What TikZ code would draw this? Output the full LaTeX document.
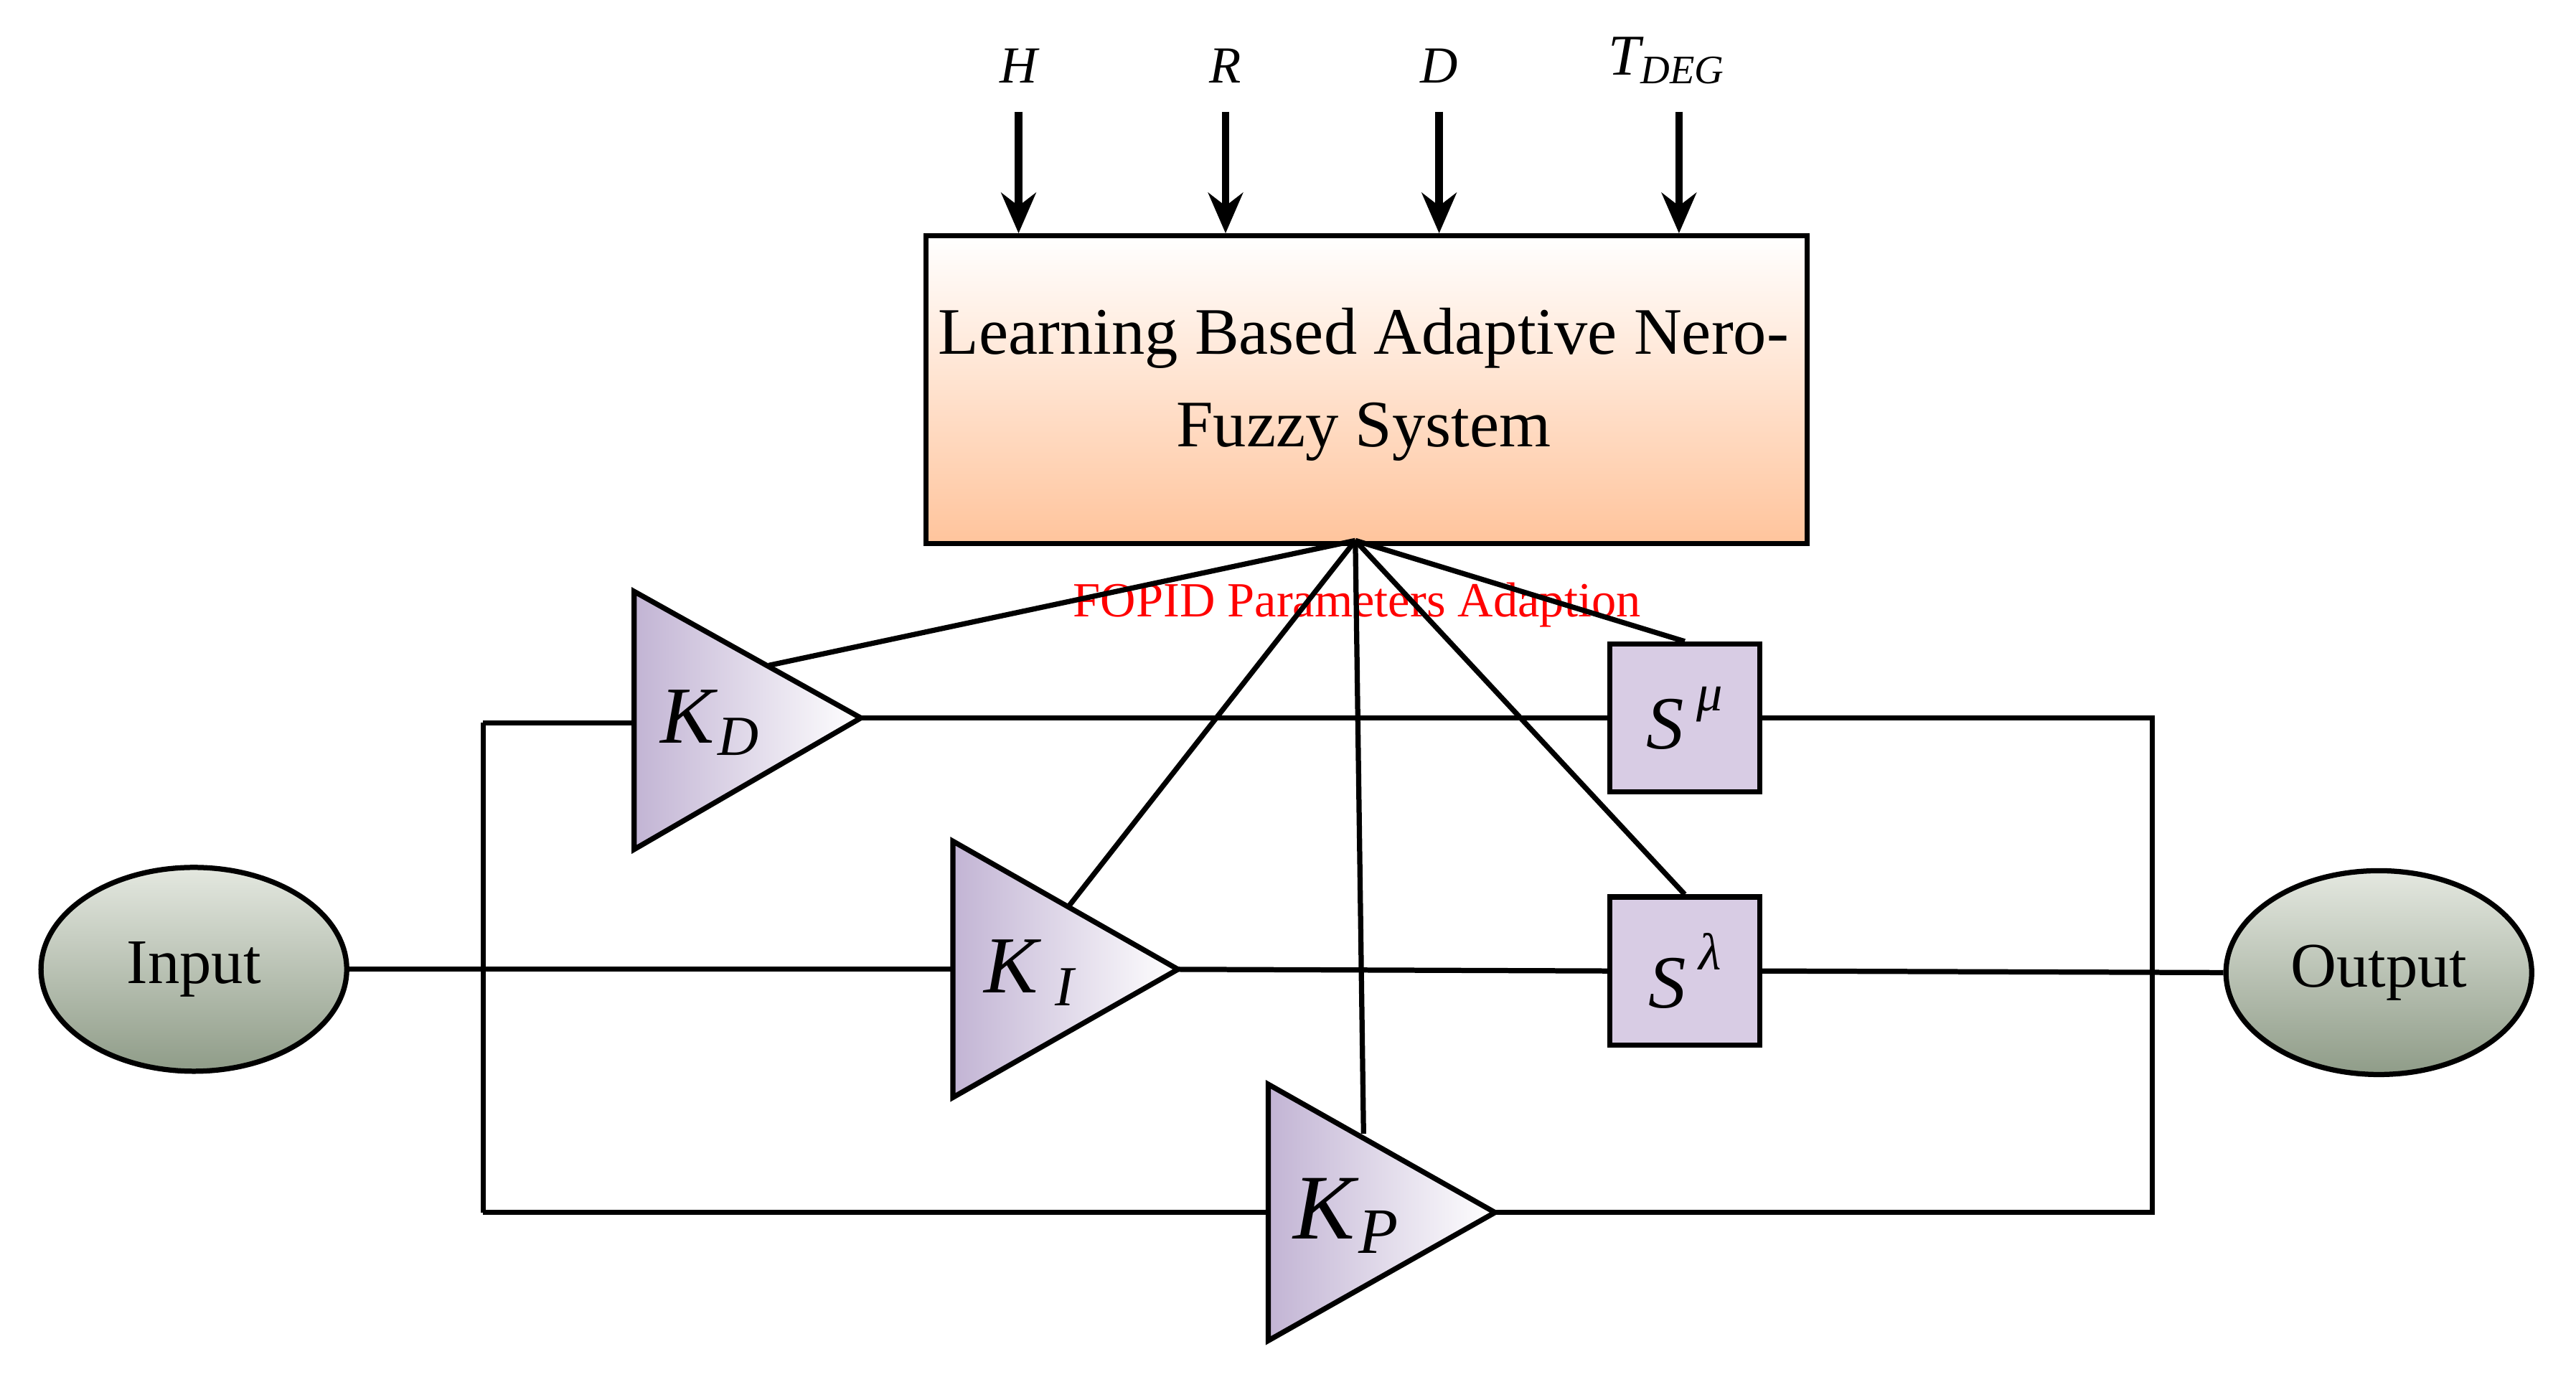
\documentclass[tikz,border=0pt]{standalone}
\usepackage{fontspec}
\setmainfont{Liberation Serif}
\begin{document}
\begin{tikzpicture}[x=0.01cm,y=-0.01cm,
  ln/.style={line width=0.9pt},
  arr/.style={line width=1.3pt,-{Stealth[length=7pt,width=6pt]}},
  tri/.style={ln,left color=lavk,right color=white},
  sbox/.style={ln,draw,fill=lavb,minimum width=91\pgflinewidth,inner sep=0pt},
  ell/.style={ln,draw,ellipse,top color=elt,bottom color=elb,minimum width=1.86cm,minimum height=1.24cm,font=\fontsize{11}{13}\selectfont},
  kl/.style={font=\fontsize{14}{16}\selectfont}]
\usetikzlibrary{arrows.meta,shapes.geometric}
\definecolor{lavk}{HTML}{C2B4D4}
\definecolor{lavb}{HTML}{D8CCE4}
\definecolor{elt}{HTML}{E4E8E0}
\definecolor{elb}{HTML}{8F9C88}
\definecolor{org}{HTML}{FFC49C}
\useasboundingbox (0,0) rectangle (1568,838);
% top box
\node[ln,draw,top color=white,bottom color=org,minimum width=5.36cm,minimum height=1.87cm,anchor=north west,inner sep=0pt] (box) at (562,142) {};
\node[align=center,font=\fontsize{11.5}{16}\selectfont] (boxt) at (830,234) {Learning Based Adaptive Nero-\\Fuzzy System};
% inputs
\foreach \x/\n/\t in {620/h/H,746/r/R,876/d/D}{
  \node[font=\fontsize{9}{10}\selectfont\itshape] (\n) at (\x,40) {\t};
  \coordinate (\n a) at (\x,68); \coordinate (\n b) at (\x,142);
  \draw[arr] (\n a) -- (\n b);}
\node[font=\fontsize{10}{10}\selectfont\itshape] (tdeg) at (1015,37) {T\textsubscript{\fontsize{7}{7}\selectfont DEG}};
\coordinate (ta) at (1022,68); \coordinate (tb) at (1022,142);
\draw[arr] (ta) -- (tb);
\coordinate (hub) at (825,329);
\node[text=red,font=\fontsize{8.5}{10}\selectfont] (fopid) at (826,368) {FOPID Parameters Adaption};
% triangles
\draw[tri] (386,360) -- (524,437) -- (386,517) -- cycle;
\draw[tri] (580,512) -- (717,590) -- (580,668) -- cycle;
\draw[tri] (772,660) -- (910,738) -- (772,816) -- cycle;
\node[kl] (kd) at (433,440) {\textit{K}\textsubscript{\textit{D}}};
\node[kl] (ki) at (628,592) {\textit{K}\,\textsubscript{\textit{I}}};
\node[kl,font=\fontsize{16}{18}\selectfont] (kp) at (820,740) {\textit{K}\textsubscript{\textit{P}}};
\coordinate (kdl) at (386,440); \coordinate (kdt) at (524,437);
\coordinate (kil) at (580,590); \coordinate (kit) at (717,590);
\coordinate (kpl) at (772,738); \coordinate (kpt) at (910,738);
\coordinate (kdh) at (468,405); \coordinate (kih) at (651,551); \coordinate (kph) at (830,690);
% S boxes
\node[ln,draw,fill=lavb,minimum width=0.91cm,minimum height=0.9cm,inner sep=0pt,font=\fontsize{13}{15}\selectfont] (smu) at (1025.5,437) {\textit{S}\,\raisebox{1.1ex}{\fontsize{9}{9}\selectfont\textit{μ}}};
\node[ln,draw,fill=lavb,minimum width=0.91cm,minimum height=0.9cm,inner sep=0pt,font=\fontsize{13}{15}\selectfont] (sla) at (1025.5,591) {\textit{S}\,\raisebox{1.1ex}{\fontsize{9}{9}\selectfont\textit{λ}}};
% ellipses
\node[ell] (in) at (118,590) {Input};
\node[ell] (out) at (1448,592) {Output};
% buses
\coordinate (lt) at (294,440); \coordinate (lb) at (294,738);
\coordinate (rt) at (1310,437); \coordinate (rb) at (1310,738); \coordinate (rm) at (1310,590);
\draw[ln] (in.east) -- (kil);
\draw[ln] (lt) -- (lb);
\draw[ln] (lt) -- (kdl);
\draw[ln] (lb) -- (kpl);
\draw[ln] (kdt) -- (smu.west);
\draw[ln] (smu.east) -- (rt) -- (rb) -- (kpt);
\draw[ln] (kit) -- (sla.west);
\draw[ln] (sla.east) -- (out.west);
% adaption lines
\draw[ln] (hub) -- (kdh);
\draw[ln] (hub) -- (kih);
\draw[ln] (hub) -- (kph);
\draw[ln] (hub) -- (smu.north);
\draw[ln] (hub) -- (sla.north);
\end{tikzpicture}
\end{document}
